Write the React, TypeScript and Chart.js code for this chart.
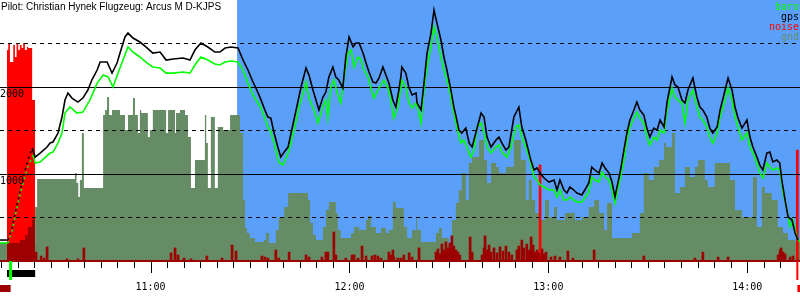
import React, { useEffect, useRef } from 'react';
import { Chart, registerables } from 'chart.js';

Chart.register(...registerables);

// ---------- text ----------
const TITLE = 'Pilot: Christian Hynek Flugzeug: Arcus M D-KJPS';
const LEGEND_NAMES = ['baro', 'gps', 'noise', 'gnd'];

// ---------- axis ranges (time in minutes after 10:00, altitude in m) ----------
const T_MIN = 14.6;
const T_MAX = 255.9;
const T_TICK_STEP = 5;
const T_LABEL_STEP = 60;
const ALT_MAX = 3000;
const ALT_LABELS = [1000, 2000];
const ALT_SOLID = [1000, 2000];
const ALT_DASHED = [500, 1500, 2500];

// ---------- events (minutes after 10:00) ----------
const TASK_START = 86.1;
const ENGINE_ON = 16.7;
const ENGINE_OFF = 25.2;
const TAKEOFF = 17.8;
const CLIMB_START = 16.9;
const CLIMB_END = 24.7;
const LANDING = 255.1;

// ---------- series: [minute, altitude m] ----------
const gps: [number, number][] = [
  [14.6,241],[16.7,241],[17.0,241],[18.2,379],[19.4,586],[20.6,793],[21.8,988],[23.0,1161],[24.3,1299],[25.2,1195],
  [26.7,1241],[28.8,1310],[29.7,1356],[30.6,1368],[32.1,1471],[33.3,1655],[34.2,1850],[35.1,1931],[36.3,1873],[38.1,1827],
  [39.6,1873],[41.1,1965],[42.3,2080],[43.9,2195],[44.8,2287],[46.9,2287],[48.4,2160],[49.9,2275],[50.8,2390],[52.3,2575],
  [53.2,2620],[54.7,2563],[56.8,2517],[58.6,2460],[60.7,2390],[62.9,2402],[64.7,2310],[66.8,2322],[69.8,2333],[71.9,2310],
  [73.4,2425],[75.2,2505],[77.3,2460],[79.4,2402],[80.9,2402],[82.5,2448],[84.3,2460],[86.4,2448],[87.9,2310],[89.4,2195],
  [90.9,2057],[91.8,1988],[93.0,1884],[94.5,1735],[95.4,1655],[96.3,1643],[97.2,1482],[98.4,1310],[99.3,1195],[100.3,1252],
  [101.5,1310],[102.4,1471],[103.9,1735],[105.4,2000],[106.9,2218],[107.8,2137],[109.0,1965],[109.9,1850],[110.8,1735],[112.0,1884],
  [112.9,1942],[113.8,2114],[115.0,2229],[115.9,2114],[116.8,2080],[118.0,1988],[118.9,2344],[119.9,2575],[121.1,2460],[122.0,2505],
  [122.9,2505],[124.1,2390],[125.0,2275],[125.9,2172],[127.1,2057],[128.0,2045],[128.9,2103],[130.1,2229],[131.0,2137],[131.9,2045],
  [133.1,1850],[134.0,1770],[134.9,1965],[135.5,2114],[135.8,2229],[137.0,2160],[137.9,2000],[138.9,1908],[140.1,1931],[140.4,1816],
  [141.6,1735],[142.5,2045],[143.4,2390],[144.6,2620],[145.5,2885],[146.4,2735],[147.6,2540],[148.5,2345],[149.4,2195],[150.6,1965],
  [151.5,1770],[152.4,1620],[153.0,1505],[153.9,1471],[155.1,1528],[156.1,1356],[157.0,1310],[158.2,1482],[159.7,1700],[160.6,1655],
  [161.5,1425],[162.7,1310],[164.2,1390],[165.1,1425],[166.0,1356],[167.2,1276],[168.1,1310],[169.6,1655],[171.1,1770],[172.0,1540],
  [173.2,1390],[174.7,1160],[175.7,1046],[176.6,1069],[177.5,1011],[178.7,954],[180.2,908],[181.7,931],[182.6,816],[183.5,931],
  [184.7,816],[185.6,782],[186.5,850],[187.7,816],[188.6,782],[190.1,759],[191.0,816],[192.2,897],[193.1,1080],[194.0,1046],
  [195.3,1011],[196.2,1126],[197.1,1069],[198.3,1011],[199.2,908],[200.1,736],[200.7,850],[201.6,1011],[202.8,1276],[203.7,1471],
  [204.6,1620],[205.8,1735],[206.7,1827],[207.6,1735],[208.8,1678],[209.7,1528],[210.6,1425],[211.8,1528],[212.8,1505],[213.7,1620],
  [214.9,1540],[215.8,1827],[216.1,1885],[217.3,2115],[218.2,2023],[219.1,2000],[220.3,1850],[221.2,1816],[222.1,1965],[223.6,2103],
  [224.8,1885],[225.7,1770],[226.6,1735],[227.8,1655],[228.7,1528],[229.6,1471],[230.9,1540],[231.8,1735],[233.3,1965],[234.2,2103],
  [235.4,1965],[236.3,1770],[237.2,1643],[238.4,1528],[239.9,1620],[240.8,1425],[241.7,1310],[242.9,1195],[243.8,1103],[244.7,1046],
  [245.9,1241],[246.8,1252],[247.7,1138],[248.9,1160],[249.8,1126],[250.4,931],[251.4,701],[252.3,506],[253.5,471],[254.4,322],
  [255.3,241],
];

const baro: [number, number][] = [
  [14.6,207],[16.7,207],[17.0,207],[18.2,333],[19.4,552],[20.6,759],[21.8,931],[23.0,1080],[24.6,1218],[25.2,1126],
  [26.7,1138],[29.7,1241],[30.6,1252],[32.1,1356],[33.3,1471],[34.2,1700],[35.7,1770],[37.8,1700],[39.6,1712],[41.7,1850],
  [43.9,2045],[45.7,2137],[47.2,2115],[48.7,2000],[50.2,2160],[51.7,2310],[53.2,2460],[54.7,2402],[56.8,2345],[58.6,2287],
  [60.7,2230],[62.9,2218],[64.7,2160],[66.8,2160],[69.8,2172],[71.9,2160],[73.4,2253],[75.2,2345],[77.3,2310],[79.4,2264],
  [80.9,2253],[82.5,2287],[84.3,2299],[86.4,2287],[87.9,2195],[89.4,2045],[90.9,1908],[92.4,1816],[93.3,1759],[94.5,1643],
  [95.4,1540],[96.3,1482],[97.2,1368],[98.7,1138],[99.9,1103],[100.9,1184],[101.8,1276],[103.3,1505],[104.8,1770],[106.3,1965],
  [106.9,2057],[107.8,1873],[109.3,1735],[110.5,1586],[112.0,1770],[112.9,1850],[113.5,1643],[114.4,2000],[115.3,2080],[116.5,1908],
  [117.4,1816],[118.4,2115],[119.6,2390],[120.5,2425],[121.4,2230],[122.6,2345],[123.5,2310],[124.4,2195],[125.6,2115],[126.5,1988],
  [127.4,1873],[128.9,1988],[130.4,2080],[131.6,1988],[132.5,1850],[133.4,1643],[134.6,1770],[135.5,1988],[135.8,2080],[137.0,2000],
  [137.9,1827],[138.9,1759],[140.1,1816],[141.0,1700],[141.6,1586],[142.5,1965],[143.4,2230],[144.6,2460],[145.5,2690],[146.4,2575],
  [147.6,2345],[148.5,2195],[150.0,2000],[150.9,1816],[152.4,1540],[153.6,1356],[154.5,1390],[155.4,1310],[156.6,1195],[157.6,1276],
  [158.5,1540],[159.7,1586],[160.6,1471],[161.5,1310],[162.7,1241],[164.2,1310],[165.1,1333],[166.0,1252],[167.5,1195],[168.7,1310],
  [170.2,1540],[171.1,1563],[172.0,1425],[173.5,1276],[174.7,1126],[175.7,965],[176.6,931],[177.5,874],[178.7,851],[180.2,816],
  [181.7,816],[182.6,736],[183.5,816],[184.7,701],[185.6,701],[186.5,736],[187.7,701],[188.6,678],[190.1,678],[191.0,724],
  [192.2,793],[193.1,965],[194.0,931],[195.3,908],[196.2,1023],[197.1,965],[198.3,931],[199.2,816],[200.1,667],[200.7,782],
  [201.6,931],[202.8,1161],[203.7,1391],[204.6,1540],[205.8,1643],[206.7,1712],[207.6,1643],[208.8,1586],[209.7,1425],[210.6,1333],
  [211.8,1425],[212.8,1391],[213.7,1505],[214.9,1471],[215.8,1735],[216.1,1770],[217.3,1988],[218.2,1885],[219.1,1850],[220.3,1816],
  [221.2,1586],[222.1,1850],[223.6,1965],[224.8,1770],[225.7,1655],[226.6,1620],[227.8,1540],[228.7,1425],[229.6,1356],[230.9,1471],
  [231.8,1655],[233.3,1850],[234.2,1988],[235.4,1850],[236.3,1655],[237.2,1540],[238.4,1391],[239.9,1471],[240.8,1310],[241.7,1241],
  [242.9,1126],[243.8,1011],[244.7,954],[245.9,1126],[246.8,1080],[247.7,1046],[249.0,1069],[249.8,1046],[250.8,782],[252.0,586],
  [252.9,391],[253.8,471],[255.0,264],[255.9,218],
];

// ground elevation, each value holds until the next time
const gnd: [number, number][] = [
  [14.6,207],[25.2,621],[25.8,943],[37.2,1011],[37.7,897],[38.2,736],[38.7,931],[39.3,1471],[39.9,839],[45.7,1678],
  [46.3,1736],[46.9,1885],[47.5,1678],[48.4,1736],[50.8,1678],[52.3,1506],[53.2,1678],[54.7,1874],[55.3,1678],[56.2,1471],
  [56.8,1736],[57.2,1701],[59.2,1425],[59.8,1506],[60.7,1736],[64.7,1471],[65.3,1736],[67.4,1471],[67.7,1701],[68.9,1736],
  [70.4,1678],[71.3,1425],[72.2,839],[73.4,1161],[76.4,1678],[76.8,1356],[77.3,839],[78.2,1655],[79.4,839],[80.3,1540],
  [81.9,1506],[84.0,1678],[87.0,1471],[87.9,701],[88.5,379],[89.1,322],[90.0,264],[91.5,218],[94.2,241],[94.8,322],
  [95.7,207],[97.8,356],[98.7,506],[100.3,621],[101.5,782],[107.5,701],[108.1,437],[109.0,299],[109.9,241],[112.0,391],
  [112.9,586],[113.8,678],[115.9,552],[116.5,356],[117.4,264],[120.5,322],[121.4,391],[122.9,356],[125.0,471],[125.6,517],
  [126.5,391],[128.0,322],[129.5,379],[131.0,322],[131.9,356],[133.1,678],[134.0,609],[136.4,391],[137.4,264],[138.9,356],
  [140.1,506],[140.4,356],[141.6,218],[146.1,322],[147.0,379],[147.9,264],[150.0,207],[150.9,471],[152.1,667],[153.0,816],
  [153.9,1011],[155.1,701],[156.0,1126],[157.0,1195],[159.1,1391],[160.6,1161],[161.5,897],[162.7,1126],[164.2,1080],[165.1,1011],
  [167.2,1080],[169.6,1391],[171.7,1161],[173.2,701],[174.1,931],[175.0,701],[176.0,552],[177.2,471],[179.0,701],[180.2,506],
  [181.7,621],[182.6,471],[185.0,552],[188.0,471],[190.1,506],[192.2,621],[193.8,701],[195.3,552],[196.8,356],[197.7,667],
  [199.2,264],[205.2,322],[207.6,552],[208.8,1011],[210.3,931],[211.8,1080],[213.4,1161],[214.9,1356],[215.5,1310],[217.3,1471],
  [218.2,782],[219.7,851],[221.2,1080],[222.7,965],[224.2,1080],[225.1,1161],[227.2,931],[228.1,851],[230.2,1126],[234.8,931],
  [236.3,586],[238.4,506],[241.7,965],[242.9,391],[244.4,851],[245.3,782],[247.4,701],[249.2,391],[250.8,322],[252.3,241],
  [254.4,218],[255.9,218],
];

// noise level in % of full scale: [minute, level]
const engineNoise: [number, number][] = [
  [16.7,80.8],[17.1,83.5],[17.6,76.2],[18.6,82.8],[19.1,78.2],[19.6,83.5],[20.1,80.8],[20.6,82.8],[21.1,81.6],[21.6,83.5],
  [22.1,80.8],[22.7,82.0],[23.1,81.6],[23.6,81.6],[24.3,61.7],[25.2,0],
];
const enginePeaks: [number, number][] = [[177.5,36.8],[255.1,42.5]];
const takeoffNoise: [number, number][] = [
  [16.7,6.9],[20.6,8.0],[22.1,10.0],[23.0,13.0],[24.3,15.7],[24.6,16.9],[25.2,0],
];
const noise: [number, number][] = [
  [25.5,3.4],[27.0,1.9],[27.9,1.1],[28.8,5.4],[34.8,0.8],[38.1,0.8],[39.9,5.0],[66.2,3.1],[67.4,5.0],[68.3,2.3],
  [70.1,1.1],[72.2,0.8],[77.0,1.9],[81.6,1.1],[84.6,6.1],[85.8,3.8],[93.6,1.9],[94.5,1.5],[95.4,1.1],[97.8,4.2],
  [98.7,1.1],[101.8,3.4],[106.9,2.3],[107.8,1.5],[111.7,1.5],[112.9,3.4],[113.5,3.4],[115.3,11.1],[115.9,2.3],[118.9,1.1],
  [120.8,2.3],[121.4,2.3],[122.6,1.1],[123.8,5.7],[125.0,1.9],[126.8,1.9],[127.7,2.3],[128.6,1.9],[129.5,1.1],[131.9,3.4],
  [132.5,2.3],[133.1,4.2],[133.4,1.5],[134.6,1.1],[135.5,1.1],[136.4,2.3],[138.0,3.1],[138.9,1.5],[141.0,5.0],[146.1,3.4],
  [146.7,4.6],[147.3,2.7],[147.9,6.5],[148.5,4.2],[149.1,7.3],[149.7,5.0],[150.3,6.9],[150.9,9.6],[151.5,5.7],[152.1,4.2],
  [152.7,3.4],[153.3,2.3],[156.4,9.2],[157.0,3.4],[160.0,2.3],[160.6,5.0],[160.9,9.6],[161.5,4.2],[162.1,6.1],[162.7,3.4],
  [163.6,5.0],[164.5,3.1],[165.4,5.4],[166.3,3.8],[167.2,5.7],[168.1,3.4],[169.0,2.3],[170.5,4.2],[171.1,5.7],[172.0,8.0],
  [172.6,5.0],[173.5,6.5],[174.2,4.2],[174.8,9.2],[175.4,6.1],[176.0,3.4],[176.6,4.2],[177.2,3.1],[178.1,4.6],[178.7,2.7],
  [179.3,3.4],[180.8,1.5],[182.0,1.9],[183.5,1.5],[185.9,3.8],[187.4,1.1],[193.8,4.2],[208.8,1.9],[224.2,1.1],[226.6,3.4],
  [231.2,1.5],[234.2,1.5],[249.3,2.3],[249.9,4.2],[250.2,5.0],[250.8,3.4],[251.4,2.7],[252.9,1.5],[253.8,1.9],
];

// ---------- colours ----------
const C_BARO = '#00ff00';
const C_GPS = '#000000';
const C_NOISE = '#ff0000';
const C_NOISE_DARK = '#9c0000';
const C_GND = '#668c66';
const C_TASK = '#5aa0fa';
const LEGEND_COLORS = [C_BARO, C_GPS, C_NOISE, C_GND];
const MONO = '"DejaVu Sans Mono", monospace';

const xy = (a: [number, number][]) => a.map(([x, y]) => ({ x, y }));
const hourLabel = (m: number) => `${10 + Math.floor(m / 60)}:${String(m % 60).padStart(2, '0')}`;

const overlay = {
  id: 'barogramOverlay',
  beforeDatasetsDraw(chart: any) {
    const { ctx, chartArea: a, scales } = chart;
    const x0 = scales.x.getPixelForValue(TASK_START);
    ctx.save();
    ctx.fillStyle = C_TASK;
    ctx.fillRect(x0, a.top, a.right - x0, a.bottom - a.top);
    ctx.restore();
  },
  beforeDatasetDraw(chart: any, args: any) {
    if (args.index !== 5) return;
    const { ctx, chartArea: a, scales } = chart;
    ctx.save();
    ctx.strokeStyle = '#000';
    ctx.lineWidth = 1;
    const line = (v: number, dash: number[]) => {
      const y = Math.floor(scales.y.getPixelForValue(v)) + 0.5;
      ctx.setLineDash(dash);
      ctx.beginPath();
      ctx.moveTo(a.left, y);
      ctx.lineTo(a.right, y);
      ctx.stroke();
    };
    ALT_SOLID.forEach((v) => line(v, []));
    ALT_DASHED.forEach((v) => line(v, [4, 4]));
    ctx.setLineDash([]);
    ctx.fillStyle = C_NOISE_DARK;
    ctx.fillRect(a.left, scales.y.getPixelForValue(0) - 1, a.right - a.left, 2);
    ctx.restore();
  },
  afterDatasetsDraw(chart: any) {
    const { ctx, chartArea: a, scales } = chart;
    ctx.save();
    ctx.fillStyle = '#000';
    ctx.font = '10px ' + MONO;
    ctx.textAlign = 'left';
    ctx.textBaseline = 'alphabetic';
    ALT_LABELS.forEach((v) => {
      ctx.fillText(String(v), a.left, Math.floor(scales.y.getPixelForValue(v)) + 10);
    });
    ctx.restore();
  },
  afterDraw(chart: any) {
    const { ctx, chartArea: a, scales } = chart;
    const xs = scales.x;
    ctx.save();
    // title
    ctx.fillStyle = '#000';
    ctx.font = '10px "Liberation Sans", Arial, sans-serif';
    ctx.textAlign = 'left';
    ctx.textBaseline = 'alphabetic';
    ctx.fillText(TITLE, 1, 10);
    // legend
    ctx.font = '10px ' + MONO;
    ctx.textAlign = 'right';
    LEGEND_NAMES.forEach((n, i) => {
      ctx.fillStyle = LEGEND_COLORS[i];
      ctx.fillText(n, a.right - 1, 10 + i * 10);
    });
    // time axis: ticks every 5 min, labels every hour
    ctx.strokeStyle = '#000';
    ctx.fillStyle = '#000';
    ctx.lineWidth = 1;
    ctx.textAlign = 'center';
    for (let m = Math.ceil(T_MIN / T_TICK_STEP) * T_TICK_STEP; m <= T_MAX; m += T_TICK_STEP) {
      const px = xs.getPixelForValue(m);
      const x = Math.round(px) + 0.5;
      const major = m % T_LABEL_STEP === 0;
      ctx.beginPath();
      ctx.moveTo(x, a.bottom);
      ctx.lineTo(x, a.bottom + (major ? 12 : 7));
      ctx.stroke();
      if (major) ctx.fillText(hourLabel(m), px, a.bottom + 29);
    }
    // engine run bar, takeoff and landing markers
    const xOn = xs.getPixelForValue(ENGINE_ON);
    const xOff = xs.getPixelForValue(ENGINE_OFF);
    ctx.fillStyle = '#000';
    ctx.fillRect(xOn, a.bottom + 9, xOff - xOn, 7);
    const xT = xs.getPixelForValue(TAKEOFF);
    ctx.fillStyle = C_BARO;
    ctx.fillRect(xT - 1.5, a.bottom, 3, 19);
    ctx.fillStyle = C_NOISE_DARK;
    ctx.fillRect(a.left, a.bottom + 24, xT - a.left, 7);
    const xL = xs.getPixelForValue(LANDING);
    ctx.fillStyle = C_NOISE;
    ctx.fillRect(xL - 1, a.bottom, 2, 19);
    ctx.fillRect(xL, a.bottom + 24, 3, 7);
    ctx.restore();
  },
};

export default function App() {
  const ref = useRef<HTMLCanvasElement>(null);
  useEffect(() => {
    const climbDash = (ctx: any) =>
      ctx.p0.parsed.x >= CLIMB_START && ctx.p1.parsed.x <= CLIMB_END ? [2, 4] : undefined;
    const chart = new Chart(ref.current as HTMLCanvasElement, {
      type: 'line',
      data: {
        datasets: [
          { label: 'gnd', data: xy(gnd), stepped: true, fill: 'origin', backgroundColor: C_GND, borderWidth: 0, pointRadius: 0, order: 6, yAxisID: 'y' },
          { label: 'engine', data: xy(engineNoise), stepped: true, fill: 'origin', backgroundColor: C_NOISE, borderWidth: 0, pointRadius: 0, order: 5, yAxisID: 'yn' },
          { type: 'bar', label: 'engine peaks', data: xy(enginePeaks), backgroundColor: C_NOISE, barThickness: 2, grouped: false, order: 4, yAxisID: 'yn' },
          { label: 'noise takeoff', data: xy(takeoffNoise), stepped: true, fill: 'origin', backgroundColor: C_NOISE_DARK, borderWidth: 0, pointRadius: 0, order: 3, yAxisID: 'yn' },
          { type: 'bar', label: 'noise', data: xy(noise), backgroundColor: C_NOISE_DARK, barThickness: 2, grouped: false, order: 3, yAxisID: 'yn' },
          { label: 'baro', data: xy(baro), borderColor: C_BARO, borderWidth: 1.6, pointRadius: 0, fill: false, order: 1, yAxisID: 'y', segment: { borderDash: climbDash } },
          { label: 'gps', data: xy(gps), borderColor: C_GPS, borderWidth: 1.6, pointRadius: 0, fill: false, order: 0, yAxisID: 'y', segment: { borderDash: climbDash } },
        ] as any,
      },
      options: {
        responsive: false,
        animation: false,
        events: [],
        layout: { padding: { left: 0, right: 0, top: 0, bottom: 39 } },
        plugins: { legend: { display: false }, tooltip: { enabled: false }, title: { display: false } },
        scales: {
          x: { type: 'linear', min: T_MIN, max: T_MAX, offset: false, display: false },
          y: { type: 'linear', min: 0, max: ALT_MAX, display: false },
          yn: { type: 'linear', min: 0, max: 100, display: false },
        },
      } as any,
      plugins: [overlay],
    });
    return () => chart.destroy();
  }, []);
  return (
    <div style={{ position: 'fixed', left: 0, top: 0, width: 800, height: 300, background: '#fff' }}>
      <canvas ref={ref} width={800} height={300} />
    </div>
  );
}
